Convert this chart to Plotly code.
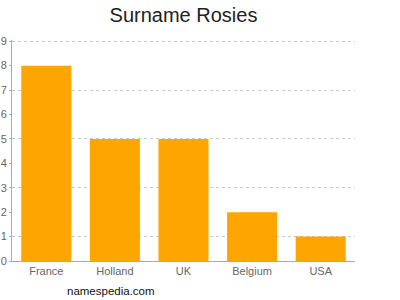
import plotly.graph_objects as go

categories = ["France", "Holland", "UK", "Belgium", "USA"]
values = [8, 5, 5, 2, 1]
ytick_vals = list(range(0, 10))
grid_vals = [1, 3, 5, 7, 9]

fig = go.Figure()
fig.add_trace(go.Scatter(x=[], y=[], xaxis="x", yaxis="y", showlegend=False))
fig.add_trace(go.Bar(x=categories, y=values, marker_color="#FFA500",
                     marker_line_width=0,
                     width=0.73, xaxis="x", yaxis="y2", showlegend=False))

axis_font = dict(family="Liberation Sans, Arial, sans-serif", size=11, color="#666666")
yr = [0, 9.05]

fig.update_layout(
    width=400, height=300,
    margin=dict(l=12, r=45, t=40, b=39),
    plot_bgcolor="white", paper_bgcolor="white",
    title=dict(text="Surname Rosies", x=(12 + 355) / 2 / 400, xanchor="center",
               y=1 - 15 / 300, yanchor="middle",
               font=dict(family="Liberation Sans, Arial, sans-serif", size=20, color="#222222")),
    xaxis=dict(type="category", showline=True, linecolor="#aaaaaa", linewidth=1,
               showgrid=False, ticks="", tickfont=axis_font, fixedrange=True,
               automargin=False),
    yaxis=dict(range=yr, tickvals=grid_vals, showticklabels=False,
               showgrid=True, gridcolor="#c8c8c8", griddash="3px,3px", gridwidth=1,
               zeroline=False, showline=False, ticks="", automargin=False),
    yaxis2=dict(range=yr, overlaying="y", side="left", tickvals=ytick_vals,
                showgrid=False, zeroline=False, showline=True, linecolor="#aaaaaa",
                ticks="outside", ticklen=2, tickcolor="#aaaaaa", tickfont=axis_font,
                automargin=False),
    bargap=0.27,
    annotations=[dict(text="namespedia.com", x=115 / 400, y=-30 / 221,
                      xref="paper", yref="paper", showarrow=False,
                      xanchor="center", yanchor="middle",
                      font=dict(family="Liberation Sans, Arial, sans-serif", size=11.5, color="#111111"))],
)

fig.write_html("out.html")
